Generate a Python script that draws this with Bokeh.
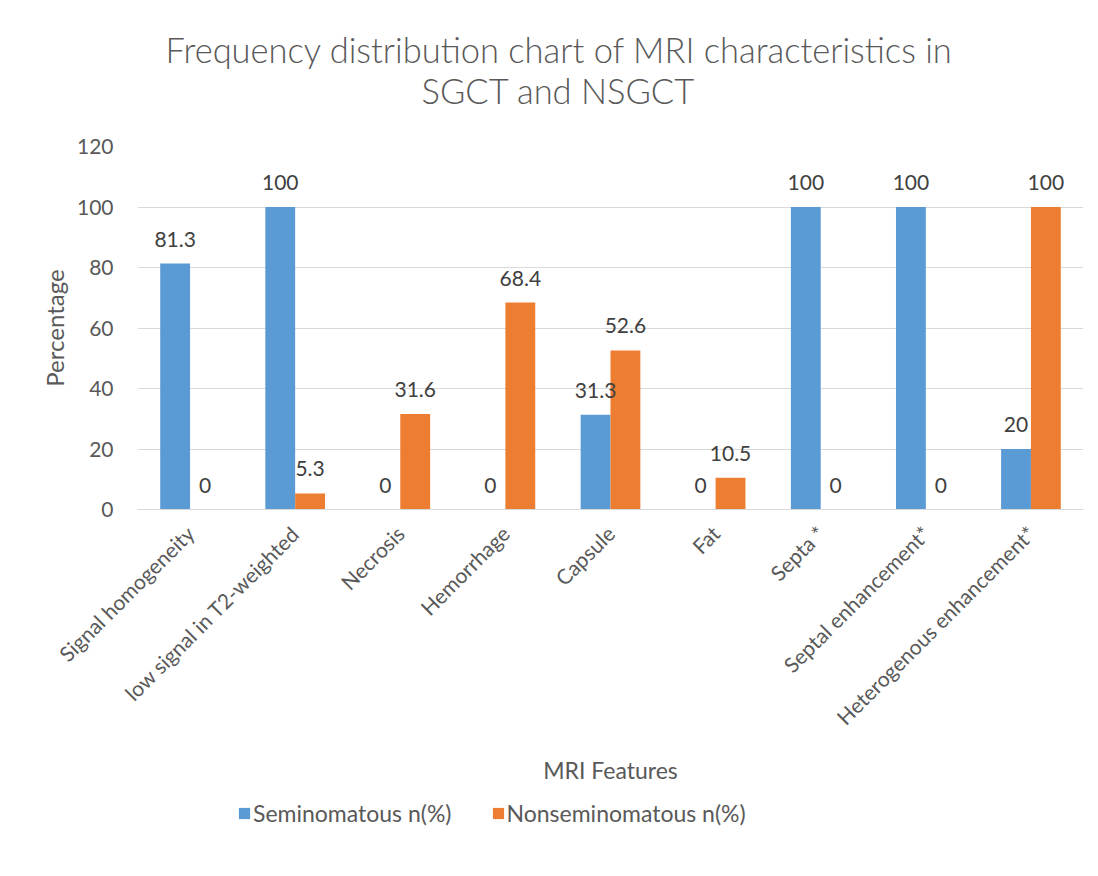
from math import pi
from bokeh.plotting import figure
from bokeh.layouts import column
from bokeh.models import (ColumnDataSource, FactorRange, LabelSet, Legend, LegendItem,
                          Title, Range1d)
from bokeh.transform import dodge
from bokeh.core.properties import value
from bokeh.embed import file_html
from bokeh.resources import INLINE

categories = ["Signal homogeneity", "low signal in T2-weighted", "Necrosis", "Hemorrhage",
              "Capsule", "Fat", "Septa *", "Septal enhancement*", "Heterogenous enhancement*"]
seminomatous = [81.3, 100, 0, 0, 31.3, 0, 100, 100, 20]
nonseminomatous = [0, 5.3, 31.6, 68.4, 52.6, 10.5, 0, 0, 100]
y_ticks = [0, 20, 40, 60, 80, 100, 120]
series_names = ["Seminomatous n(%)", "Nonseminomatous n(%)"]
title_lines = ["Frequency distribution chart of MRI characteristics in", "SGCT and NSGCT"]

FONT = "Lato"
TITLE_FONT = "Lato Light, Lato"
BLUE = "#5B9BD5"
ORANGE = "#ED7D31"
GREY_TXT = "#595959"

src = ColumnDataSource(dict(
    cat=categories,
    s=seminomatous,
    n=nonseminomatous,
    s_lbl=["{:g}".format(v) for v in seminomatous],
    n_lbl=["{:g}".format(v) for v in nonseminomatous],
))

p = figure(x_range=FactorRange(*categories), y_range=Range1d(0, 120),
           frame_width=946, frame_height=363, output_backend="svg", toolbar_location=None,
           min_border_left=137, min_border_right=15, min_border_top=146, min_border_bottom=285)
p.x_range.range_padding = 0

off = 0.142
bw = 0.284
r1 = p.vbar(x=dodge("cat", -off, range=p.x_range), top="s", width=bw, source=src,
            fill_color=BLUE, line_color=None)
r2 = p.vbar(x=dodge("cat", off, range=p.x_range), top="n", width=bw, source=src,
            fill_color=ORANGE, line_color=None)

for fld, o in (("s", -off), ("n", off)):
    p.add_layout(LabelSet(x=dodge("cat", o, range=p.x_range), y=fld, text=fld + "_lbl",
                          source=src, text_align="center", text_baseline="alphabetic",
                          y_offset=17, text_font=value(FONT), text_font_size="21px",
                          text_color="#404040"))

# two-line title (second line nearest the plot); padding order is (left, right, top, bottom)
p.add_layout(Title(text=title_lines[1], align="left", offset=284, text_font=TITLE_FONT,
                   text_font_size="34.5px", text_font_style="normal", text_color=GREY_TXT,
                   vertical_align="top", standoff=0, padding=(0, 0, 0, 34)), "above")
p.add_layout(Title(text=title_lines[0], align="left", offset=28, text_font=TITLE_FONT,
                   text_font_size="34.5px", text_font_style="normal", text_color=GREY_TXT,
                   standoff=0), "above")

p.outline_line_color = None
p.xgrid.grid_line_color = None
p.ygrid.grid_line_color = "#d9d9d9"
p.ygrid.grid_line_width = 1

p.yaxis.ticker = y_ticks
p.yaxis.axis_line_color = None
p.yaxis.major_tick_line_color = None
p.yaxis.minor_tick_line_color = None
p.yaxis.major_tick_out = 0
p.yaxis.major_label_standoff = 24
p.yaxis.major_label_text_font = FONT
p.yaxis.major_label_text_font_size = "21px"
p.yaxis.major_label_text_color = GREY_TXT
p.yaxis.axis_label = "Percentage"
p.yaxis.axis_label_text_font = FONT
p.yaxis.axis_label_text_font_size = "24px"
p.yaxis.axis_label_text_font_style = "normal"
p.yaxis.axis_label_text_color = GREY_TXT
p.yaxis.axis_label_standoff = 5

p.xaxis.axis_line_color = "#d9d9d9"
p.xaxis.axis_line_width = 1
p.xaxis.major_tick_line_color = None
p.xaxis.minor_tick_line_color = None
p.xaxis.major_tick_out = 0
p.xaxis.major_label_orientation = pi / 4
p.xaxis.major_label_standoff = 20
p.xaxis.major_label_text_font = FONT
p.xaxis.major_label_text_font_size = "21px"
p.xaxis.major_label_text_color = GREY_TXT
p.xaxis.axis_label = "MRI Features"
p.xaxis.axis_label_text_font = FONT
p.xaxis.axis_label_text_font_size = "23px"
p.xaxis.axis_label_text_font_style = "normal"
p.xaxis.axis_label_text_color = GREY_TXT
p.xaxis.axis_label_standoff = 15

# legend strip below the chart (same series, zero-width bars outside its visible range)
leg = figure(width=1098, height=82, output_backend="svg", toolbar_location=None,
             x_range=p.x_range, y_range=Range1d(-20, -10), x_axis_type=None, y_axis_type=None,
             min_border=0)
leg.grid.visible = False
leg.outline_line_color = None
d1 = leg.vbar(x=dodge("cat", -off, range=leg.x_range), top="s", width=0, source=src,
              fill_color=BLUE, line_color=None)
d2 = leg.vbar(x=dodge("cat", off, range=leg.x_range), top="n", width=0, source=src,
              fill_color=ORANGE, line_color=None)
legend = Legend(items=[LegendItem(label=series_names[0], renderers=[d1]),
                       LegendItem(label=series_names[1], renderers=[d2])],
                orientation="horizontal", location=(100, 49),
                label_text_font=FONT, label_text_font_size="23px", label_text_color=GREY_TXT,
                glyph_width=14, glyph_height=14, label_height=24, label_standoff=2, spacing=39,
                border_line_color=None, background_fill_alpha=0, margin=0, padding=5)
leg.add_layout(legend, "center")

layout = column(p, leg, spacing=0)
open("out.html", "w").write(file_html(layout, INLINE))
